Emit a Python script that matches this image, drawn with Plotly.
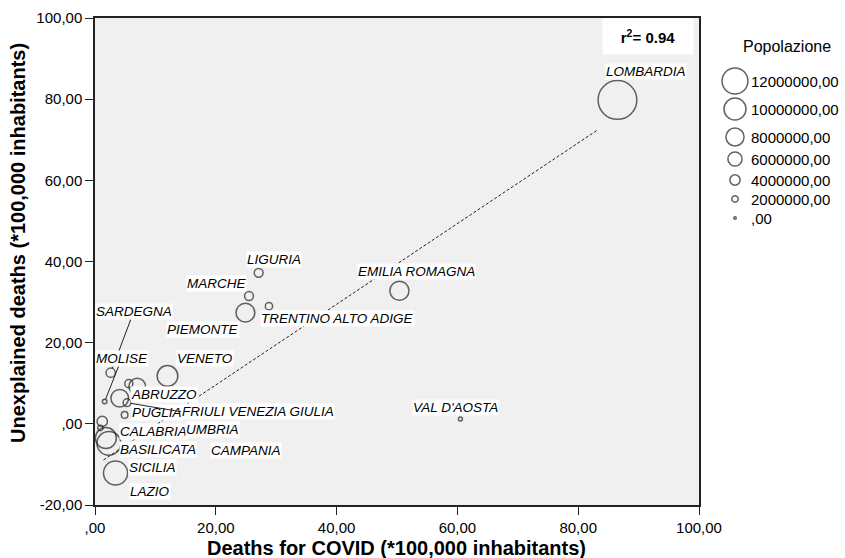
import plotly.graph_objects as go

# ---------------- data ----------------
regions = ["LOMBARDIA", "EMILIA ROMAGNA", "LIGURIA", "MARCHE", "PIEMONTE",
           "TRENTINO ALTO ADIGE", "VAL D'AOSTA", "VENETO", "SARDEGNA", "MOLISE",
           "ABRUZZO", "TOSCANA", "PUGLIA", "FRIULI VENEZIA GIULIA", "CALABRIA",
           "UMBRIA", "BASILICATA", "SICILIA", "CAMPANIA", "LAZIO"]
covid_deaths = [86.5, 50.4, 27.1, 25.5, 24.9, 28.8, 60.5, 12.0, 2.6, 1.6,
                5.6, 7.0, 4.1, 5.3, 1.2, 4.9, 0.9, 1.8, 2.3, 3.4]
unexplained_deaths = [79.8, 32.8, 37.2, 31.5, 27.4, 29.0, 1.2, 11.8, 12.6, 5.5,
                      9.9, 9.2, 6.3, 5.2, 0.6, 2.2, -1.0, -3.5, -4.8, -12.1]
population = [10060574, 4459477, 1550640, 1525271, 4356406, 1072276, 125666,
              4905854, 1639591, 305617, 1311580, 3729641, 4029053, 1215220,
              1947131, 882015, 562869, 4999891, 5801692, 5879082]
hidden_labels = ["TOSCANA"]

fit_intercept = -10.3
fit_slope = 0.994
fit_x_range = [1.4, 83.2]
r_squared = 0.94

legend_values = [12000000, 10000000, 8000000, 6000000, 4000000, 2000000, 0]
axis_ticks = [0, 20, 40, 60, 80, 100]
y_ticks = [-20, 0, 20, 40, 60, 80, 100]


def fmt(v):
    s = f"{v:.2f}".replace(".", ",")
    return s[1:] if s.startswith("0,") else s


FONT = "Liberation Sans, Arial, sans-serif"
DARK = "#222222"

# ---------------- layout geometry (pixels) ----------------
W, H = 845, 558
L, R, T, B = 95, 0, 18, 53
PLOT_RIGHT = 699
PW = W - L - R
PH = H - T - B
x_dom_end = (PLOT_RIGHT - L) / PW


def px(xp):
    return (xp - L) / PW


def py(yp):
    return (H - B - yp) / PH


# label placement: (anchor, dx, dy, arrow)  dx/dy in pixels, dy downward
label_pos = {
    "LOMBARDIA": ("left", -12, -28, False),
    "EMILIA ROMAGNA": ("left", -42, -19, False),
    "LIGURIA": ("left", -13, -13, False),
    "MARCHE": ("right", -2, -13, False),
    "PIEMONTE": ("right", -5, 17, False),
    "TRENTINO ALTO ADIGE": ("left", -9, 12, False),
    "VAL D'AOSTA": ("center", -5, -11, False),
    "VENETO": ("left", 9, -17, False),
    "SARDEGNA": ("center", 23, -61, True),
    "MOLISE": ("center", 17, -43, True),
    "ABRUZZO": ("left", 1, 11, False),
    "PUGLIA": ("left", 11, 14, False),
    "FRIULI VENEZIA GIULIA": ("left", 54, 9, True),
    "CALABRIA": ("left", 17, 10, False),
    "UMBRIA": ("left", 60, 15, False),
    "BASILICATA": ("left", 19, 22, False),
    "SICILIA": ("left", 22, 29, False),
    "CAMPANIA": ("left", 101, 7, False),
    "LAZIO": ("left", 13, 19, False),
}

point_size = [3.5 + 3.5 * p / 1e6 for p in population]
legend_size = [2.5 + 1.95 * v / 1e6 for v in legend_values]
legend_rows_px = [81, 109, 137, 159, 180, 199, 218]
legend_circle_x = 735
legend_text_x = 749

fig = go.Figure()

# regression line
fit_y = [fit_intercept + fit_slope * x for x in fit_x_range]
fig.add_trace(go.Scatter(x=fit_x_range, y=fit_y, mode="lines",
                         line=dict(color=DARK, width=1, dash="3px,2px"),
                         hoverinfo="skip", showlegend=False))

# bubbles
fig.add_trace(go.Scatter(
    x=covid_deaths, y=unexplained_deaths, mode="markers", text=regions,
    marker=dict(size=point_size, sizemode="diameter", color="rgba(0,0,0,0)",
                line=dict(color=DARK, width=1.5)),
    showlegend=False, cliponaxis=False))

# legend bubbles on a pixel-unit side axis
fig.add_trace(go.Scatter(
    x=[legend_circle_x] * len(legend_values), y=legend_rows_px, mode="markers",
    xaxis="x2", yaxis="y2",
    marker=dict(size=legend_size, sizemode="diameter", color="rgba(0,0,0,0)",
                line=dict(color=DARK, width=1.5)),
    showlegend=False, hoverinfo="skip", cliponaxis=False))

annotations = []
for name, xv, yv, s in zip(regions, covid_deaths, unexplained_deaths, point_size):
    if name in hidden_labels:
        continue
    anchor, dx, dy, arrow = label_pos[name]
    base = dict(x=xv, y=yv, xref="x", yref="y", text=f"<i>{name}</i>",
                font=dict(family=FONT, size=13.5, color="#000000"),
                bgcolor="white", borderpad=0, xanchor=anchor, yanchor="middle")
    if arrow:
        base.update(showarrow=True, ax=dx, ay=dy, axref="pixel", ayref="pixel",
                    arrowhead=0, arrowwidth=1, arrowcolor=DARK, standoff=s / 2)
    else:
        base.update(showarrow=False, xshift=dx, yshift=-dy)
    annotations.append(base)

# legend text
annotations.append(dict(x=787, y=46, xref="x2", yref="y2", text="Popolazione",
                        showarrow=False, font=dict(family=FONT, size=16, color="#000"),
                        xanchor="center", yanchor="middle"))
for v, yp in zip(legend_values, legend_rows_px):
    annotations.append(dict(x=legend_text_x, y=yp, xref="x2", yref="y2", text=fmt(v),
                            showarrow=False, font=dict(family=FONT, size=15, color="#000"),
                            xanchor="left", yanchor="middle"))

# r^2 box
annotations.append(dict(x=px(648), y=py(36), xref="paper", yref="paper",
                        text=f"<b>r<sup>2</sup>= {r_squared:.2f}</b>", showarrow=False,
                        font=dict(family=FONT, size=15, color="#000"),
                        bgcolor="white", width=88, height=33, xanchor="center",
                        yanchor="middle"))

# axis titles
annotations.append(dict(x=px(396), y=py(548), xref="paper", yref="paper",
                        text="<b>Deaths for COVID (*100,000 inhabitants)</b>",
                        showarrow=False, font=dict(family=FONT, size=20, color="#000"),
                        xanchor="center", yanchor="middle"))
annotations.append(dict(x=px(18), y=py(243), xref="paper", yref="paper",
                        text="<b>Unexplained deaths (*100,000 inhabitants)</b>",
                        showarrow=False, textangle=-90,
                        font=dict(family=FONT, size=20, color="#000"),
                        xanchor="center", yanchor="middle"))

fig.update_layout(
    width=W, height=H, margin=dict(l=L, r=R, t=T, b=B, autoexpand=False),
    paper_bgcolor="white", plot_bgcolor="white",
    font=dict(family=FONT, color="#000"),
    annotations=annotations,
    shapes=[dict(type="rect", xref="x domain", yref="y domain", x0=0, x1=1,
                 y0=0, y1=1, fillcolor="#f0f0f0", line=dict(width=0),
                 layer="below")],
    xaxis=dict(domain=[0, x_dom_end], range=[0, 100], tickvals=axis_ticks,
               ticktext=[fmt(v) for v in axis_ticks], ticks="outside", ticklen=8,
               tickcolor=DARK, showgrid=False, zeroline=False, showline=True,
               linecolor=DARK, linewidth=1.5, mirror=True, automargin=False,
               tickfont=dict(family=FONT, size=15, color="#000")),
    yaxis=dict(range=[-20, 100], tickvals=y_ticks, ticktext=[fmt(v) for v in y_ticks],
               ticks="outside", ticklen=8, tickcolor=DARK, showgrid=False,
               zeroline=False, showline=True, linecolor=DARK, linewidth=1.5,
               mirror=True, automargin=False,
               tickfont=dict(family=FONT, size=15, color="#000")),
    xaxis2=dict(domain=[x_dom_end, 1], range=[PLOT_RIGHT, W], visible=False,
                anchor="y2", fixedrange=True),
    yaxis2=dict(domain=[0, 1], range=[H - B, T], visible=False, anchor="x2",
                fixedrange=True),
    showlegend=False,
)

fig.write_html("out.html", config={"displayModeBar": False},
               post_script="document.body.style.margin='0';"
                           "document.body.style.overflow='hidden';")
